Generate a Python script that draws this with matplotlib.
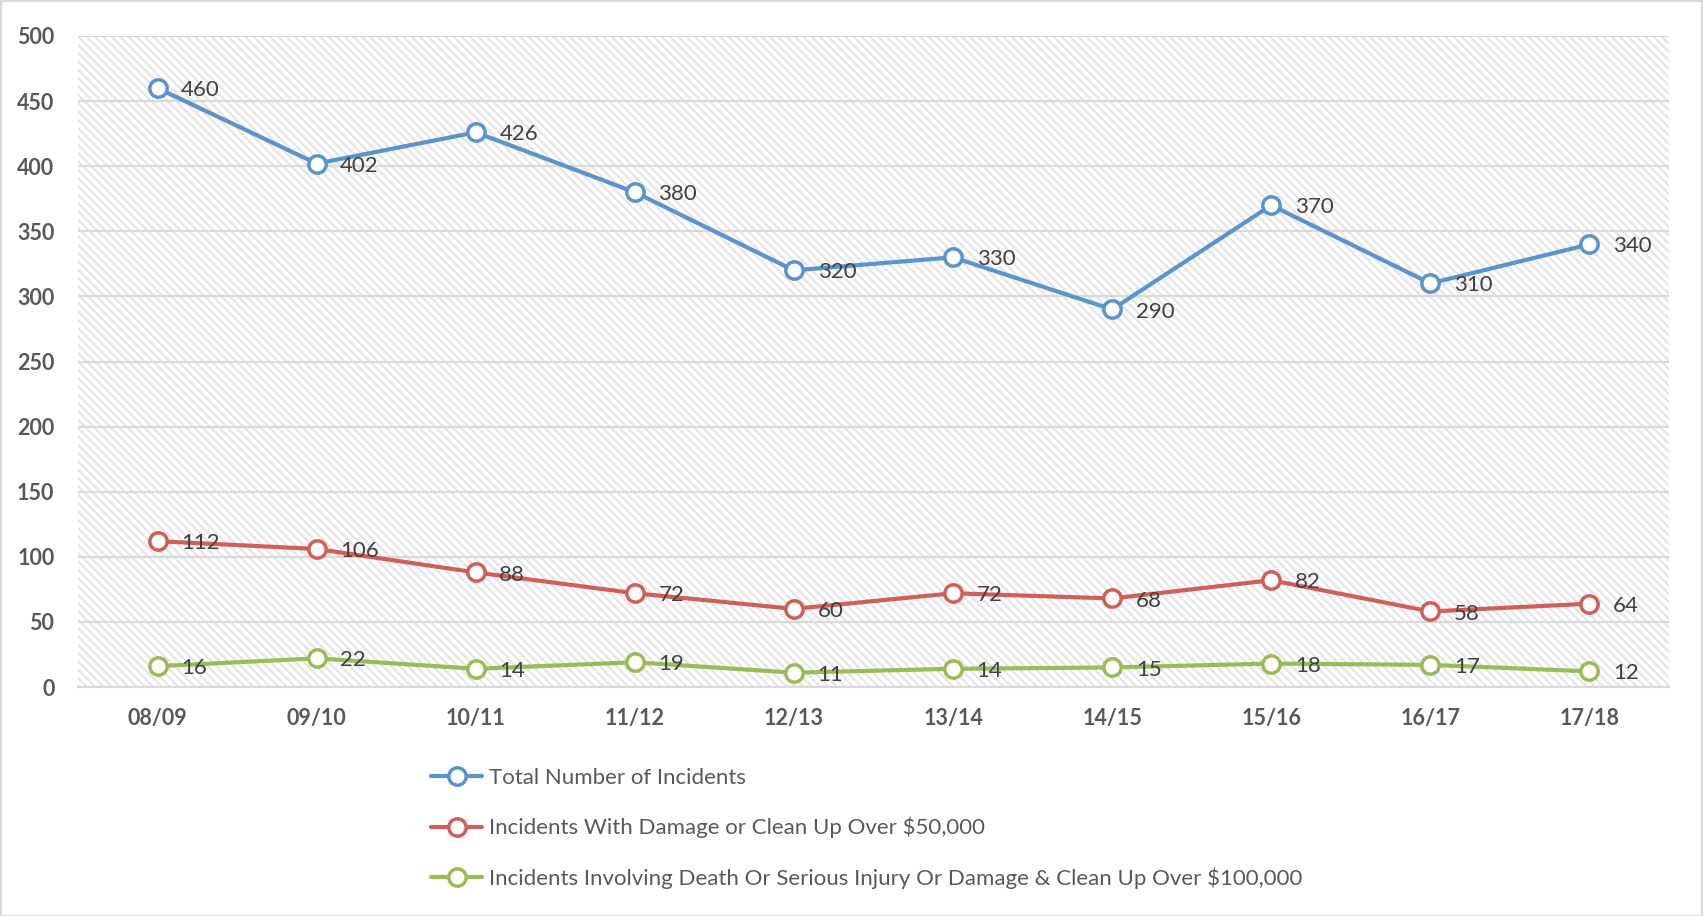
import matplotlib
matplotlib.use("Agg")
import matplotlib.pyplot as plt
from matplotlib.patches import Rectangle

categories = ["08/09", "09/10", "10/11", "11/12", "12/13", "13/14", "14/15", "15/16", "16/17", "17/18"]
total_incidents = [460, 402, 426, 380, 320, 330, 290, 370, 310, 340]
damage_over_50k = [112, 106, 88, 72, 60, 72, 68, 82, 58, 64]
death_injury_over_100k = [16, 22, 14, 19, 11, 14, 15, 18, 17, 12]
series_names = ["Total Number of Incidents",
                "Incidents With Damage or Clean Up Over $50,000",
                "Incidents Involving Death Or Serious Injury Or Damage & Clean Up Over $100,000"]
colors = ["#5B93CD", "#CF5F58", "#9BBB59"]
yticks = [0, 50, 100, 150, 200, 250, 300, 350, 400, 450, 500]

plt.rcParams['font.family'] = ['Lato', 'DejaVu Sans']
plt.rcParams['hatch.linewidth'] = 1.6

W, H = 1703, 916
fig = plt.figure(figsize=(W / 100, H / 100), dpi=100)
ax = fig.add_axes([78 / W, 1 - 687 / H, (1669 - 78) / W, (687 - 36) / H])

# hatched background
bg = Rectangle((0, 0), 1, 1, transform=ax.transAxes, facecolor="white",
               edgecolor="#e5e5e5", hatch="\\\\\\\\", linewidth=0, zorder=0)
ax.add_patch(bg)

x = list(range(len(categories)))
for vals, col, name in zip([total_incidents, damage_over_50k, death_injury_over_100k], colors, series_names):
    ax.plot(x, vals, color=col, lw=3, marker="o", markersize=12.5,
            markerfacecolor="white", markeredgecolor=col, markeredgewidth=2.5,
            zorder=5, label=name, solid_capstyle="round")
    for xi, v in zip(x, vals):
        ax.annotate(str(v), (xi, v), xytext=(17, -1.5), textcoords="offset points",
                    ha="left", va="center", fontsize=16, color="#404040", zorder=6)

ax.set_xlim(-0.5, len(categories) - 0.5)
ax.set_ylim(0, 500)
ax.set_yticks(yticks)
ax.set_xticks(x)
ax.set_xticklabels(categories)
ax.grid(axis="y", color="#d9d9d9", lw=1.6, zorder=1)
ax.set_axisbelow(True)
for s in ["top", "right", "left"]:
    ax.spines[s].set_visible(False)
ax.spines["bottom"].set_color("#d9d9d9")
ax.spines["bottom"].set_linewidth(1.6)
ax.tick_params(axis="both", length=0, labelsize=15.5, labelcolor="#595959")
ax.tick_params(axis="y", pad=17)
ax.tick_params(axis="x", pad=15)
for lab in ax.get_xticklabels() + ax.get_yticklabels():
    lab.set_fontweight("bold")

handles, labels = ax.get_legend_handles_labels()
leg = fig.legend(handles, labels, loc="upper left", bbox_to_anchor=(431 / W, 1 - 768 / H),
                 frameon=False, fontsize=16, labelcolor="#595959", handlelength=2.3,
                 handletextpad=0.3, labelspacing=1.3, borderpad=0, borderaxespad=0)

# figure border
fig.patches.append(Rectangle((0.5 / W, 0.5 / H), 1 - 2 / W, 1 - 1.5 / H, transform=fig.transFigure,
                             fill=False, edgecolor="#d9d9d9", lw=1.5))

fig.savefig("out.png", dpi=100)
